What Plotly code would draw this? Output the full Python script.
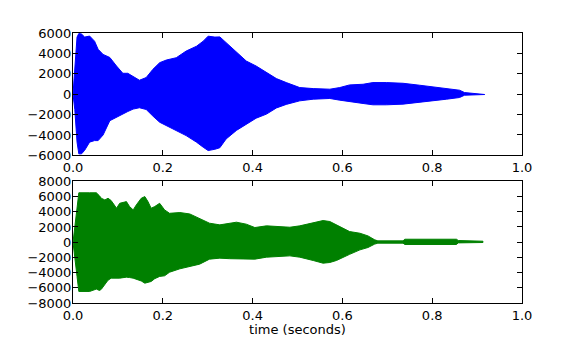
import plotly.graph_objects as go
from plotly.subplots import make_subplots

# Envelope of channel 1 (time in seconds, amplitude)
t_ch1 = [0.000, 0.004, 0.009, 0.013, 0.019, 0.026, 0.037, 0.048, 0.056, 0.067,
         0.082, 0.097, 0.111, 0.122, 0.134, 0.148, 0.163, 0.178, 0.193, 0.208,
         0.230, 0.252, 0.275, 0.290, 0.301, 0.316, 0.327, 0.341, 0.364, 0.386,
         0.408, 0.431, 0.453, 0.475, 0.505, 0.535, 0.572, 0.594, 0.616, 0.646,
         0.668, 0.698, 0.735, 0.772, 0.802, 0.832, 0.861, 0.872, 0.917]
upper_ch1 = [0, 2200, 5600, 5950, 5900, 5600, 5700, 5200, 4400, 3900,
             3600, 2760, 2050, 2050, 1720, 1370, 1630, 2440, 3090, 3350,
             3575, 4230, 4700, 5200, 5690, 5600, 5620, 5040, 4060, 3250,
             2760, 2110, 1530, 1140, 650, 550, 490, 650, 910, 975,
             1140, 1140, 1070, 880, 715, 550, 390, 160, 30]
lower_ch1 = [0, -1500, -4700, -5850, -5850, -5500, -4700, -4550, -4550, -4000,
             -2600, -2275, -1950, -1700, -1460, -1330, -1500, -2150, -2750, -3090,
             -3575, -4060, -4700, -5200, -5525, -5400, -5250, -4390, -3550, -2950,
             -2350, -1950, -1350, -1000, -650, -490, -420, -585, -750, -910,
             -1040, -1040, -975, -810, -650, -490, -325, -100, -30]

# Envelope of channel 2
t_ch2 = [0.000, 0.004, 0.009, 0.013, 0.037, 0.052, 0.059, 0.063, 0.071, 0.078,
         0.085, 0.093, 0.097, 0.104, 0.119, 0.126, 0.134, 0.141, 0.152, 0.160,
         0.167, 0.174, 0.182, 0.193, 0.204, 0.215, 0.238, 0.260, 0.282, 0.304,
         0.327, 0.349, 0.364, 0.386, 0.405, 0.431, 0.460, 0.483, 0.505, 0.520,
         0.535, 0.557, 0.572, 0.587, 0.602, 0.616, 0.639, 0.657, 0.672, 0.679,
         0.735, 0.739, 0.854, 0.858, 0.913]
upper_ch2 = [0, 2060, 5100, 6500, 6500, 6500, 6100, 5780, 5560, 5780,
             5475, 4690, 4470, 5120, 5340, 4690, 4250, 4900, 5780, 6000,
             5340, 4470, 4690, 5120, 4250, 3800, 3900, 3720, 3150, 2500,
             2280, 2500, 2630, 2370, 1930, 2150, 2060, 1970, 2150, 2370,
             2580, 2850, 2720, 2280, 1840, 1400, 1180, 830, 310, 175,
             175, 390, 390, 220, 130]
lower_ch2 = [0, -1880, -4500, -6480, -6480, -6170, -6350, -6200, -5600, -5000,
             -4730, -4730, -4730, -4730, -4600, -4650, -4730, -4850, -5100, -5390,
             -5300, -5170, -4800, -4500, -4420, -3950, -3500, -3200, -2890, -2230,
             -2100, -2170, -2200, -2230, -2230, -1970, -1880, -1800, -1970, -2150,
             -2410, -2760, -2670, -2400, -2000, -1600, -1010, -700, -250, -130,
             -130, -300, -300, -90, -40]

x_ticks = [0.0, 0.2, 0.4, 0.6, 0.8, 1.0]
x_tick_text = ["0.0", "0.2", "0.4", "0.6", "0.8", "1.0"]
y_ticks_ch1 = [-6000, -4000, -2000, 0, 2000, 4000, 6000]
y_ticks_ch2 = [-8000, -6000, -4000, -2000, 0, 2000, 4000, 6000, 8000]

fig = make_subplots(rows=2, cols=1)


def band(t, up, lo, color):
    return go.Scatter(
        x=t + t[::-1], y=up + lo[::-1],
        mode="lines", fill="toself", fillcolor=color,
        line=dict(color=color, width=1), hoverinfo="skip", showlegend=False,
    )


fig.add_trace(band(t_ch1, upper_ch1, lower_ch1, "#0000ff"), row=1, col=1)
fig.add_trace(band(t_ch2, upper_ch2, lower_ch2, "#008000"), row=2, col=1)

axis_style = dict(
    showline=True, linecolor="black", linewidth=1, mirror="ticks",
    ticks="inside", ticklen=5, tickcolor="black", tickwidth=1,
    showgrid=False, zeroline=False, automargin=False,
    tickfont=dict(family="DejaVu Sans", size=13, color="black"),
)

for r in (1, 2):
    fig.update_xaxes(range=[0, 1], tickvals=x_ticks, ticktext=x_tick_text,
                     row=r, col=1, **axis_style)

fig.update_yaxes(range=[-6000, 6000], tickvals=y_ticks_ch1, ticklabelstandoff=-2,
                 domain=[0.5467, 1.0], row=1, col=1, **axis_style)
fig.update_yaxes(range=[-8000, 8000], tickvals=y_ticks_ch2, ticklabelstandoff=-2,
                 domain=[0.0, 0.4504], row=2, col=1, **axis_style)
fig.update_xaxes(title=dict(text="time (seconds)", standoff=2,
                            font=dict(family="DejaVu Sans", size=13, color="black")),
                 row=2, col=1)

fig.update_layout(
    width=580, height=337,
    margin=dict(l=73, r=58, t=33, b=34),
    paper_bgcolor="white", plot_bgcolor="white",
    font=dict(family="DejaVu Sans", size=13, color="black"),
)

fig.write_html("out.html")
